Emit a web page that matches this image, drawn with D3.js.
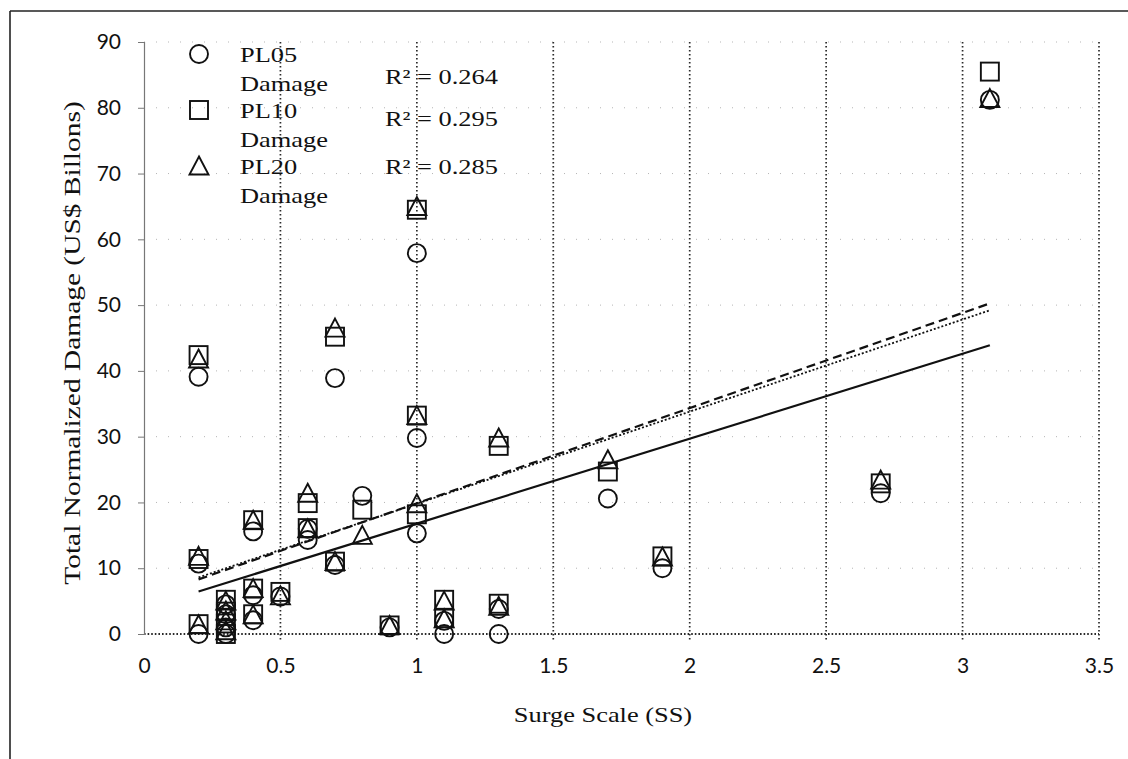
<!DOCTYPE html>
<html>
<head>
<meta charset="utf-8">
<script src="https://cdn.jsdelivr.net/npm/d3@7"></script>
<style>
  html, body { margin: 0; padding: 0; background: #fff; }
  svg { display: block; }
</style>
</head>
<body>
<svg id="chart" width="1128" height="759"></svg>
<script>
// Surge scale of each event
const surgeScale = [0.2, 0.2, 0.2, 0.3, 0.3, 0.3, 0.3, 0.4, 0.4, 0.4, 0.5, 0.6, 0.6, 0.7,
                    0.7, 0.8, 0.9, 1.0, 1.0, 1.0, 1.1, 1.1, 1.3, 1.3, 1.7, 1.9, 2.7, 3.1];
// Total normalized damage (US$ billions) per level
const pl05Damage = [39.1, 10.7, 0, 4.5, 3.0, 1.0, 0, 15.6, 5.9, 2.1, 5.7, 14.3, 16.0, 38.9,
                    10.5, 21.0, 1.0, 57.9, 29.8, 15.3, 0, 2.0, 3.8, 0, 20.6, 10.0, 21.4, 81.2];
const pl10Damage = [42.4, 11.4, 1.5, 5.2, 3.4, 1.6, 0, 17.3, 6.9, 3.0, 6.4, 16.1, 19.9, 45.2,
                    11.0, 18.9, 1.3, 64.5, 33.2, 18.2, 5.2, 2.4, 4.6, 28.6, 24.7, 11.8, 22.9, 85.5];
const pl20Damage = [41.8, 11.8, 1.4, 5.0, 3.5, 2.0, 0.5, 17.3, 6.9, 2.9, 5.8, 16.0, 21.4, 46.5,
                    11.0, 15.0, 1.3, 65.0, 33.2, 19.8, 5.0, 2.3, 4.2, 29.8, 26.5, 11.7, 23.4, 81.4];

const seriesNames = ["PL05", "PL10", "PL20"];
const rSquaredLabels = ["R\u00B2 = 0.264", "R\u00B2 = 0.295", "R\u00B2 = 0.285"];
const xTicks = [0, 0.5, 1, 1.5, 2, 2.5, 3, 3.5];
const yTicks = [0, 10, 20, 30, 40, 50, 60, 70, 80, 90];

const series = [
  { name: seriesNames[0], values: pl05Damage, shape: "circle", trend: "solid" },
  { name: seriesNames[1], values: pl10Damage, shape: "square", trend: "dashed" },
  { name: seriesNames[2], values: pl20Damage, shape: "triangle", trend: "dotted" }
];

const svg = d3.select("#chart");
const serif = "'Liberation Serif', 'Times New Roman', serif";
const sans = "Lato, 'Open Sans', sans-serif";
const ink = "#111";

const x = d3.scaleLinear().domain([0, 3.5]).range([144, 1099]);
const y = d3.scaleLinear().domain([0, 90]).range([634, 42]);

// serif label with widened glyphs
function serifText(parent, tx, ty, str, size, anchor, rotate, wide) {
  return parent.append("text")
    .attr("transform", `translate(${tx},${ty})${rotate ? " rotate(-90)" : ""} scale(${wide || 1.2},1)`)
    .attr("text-anchor", anchor || "start")
    .attr("font-family", serif).attr("font-size", size).attr("fill", ink)
    .text(str);
}

// outer frame (top and left edges)
svg.append("line").attr("x1", 10).attr("x2", 1128).attr("y1", 11).attr("y2", 11)
  .attr("stroke", "#222").attr("stroke-width", 1.6);
svg.append("line").attr("x1", 10).attr("x2", 10).attr("y1", 11).attr("y2", 759)
  .attr("stroke", "#222").attr("stroke-width", 1.6);

// horizontal gridlines: faint sparse dots
svg.append("g").selectAll("line").data(yTicks.filter(d => d > 0)).join("line")
  .attr("x1", x(0)).attr("x2", x(3.5))
  .attr("y1", d => y(d)).attr("y2", d => y(d))
  .attr("stroke", "#b5b5b5").attr("stroke-width", 1).attr("stroke-dasharray", "1,11");

// vertical gridlines: dense dots, extending slightly below the axis as ticks
svg.append("g").selectAll("line").data(xTicks.filter(d => d > 0)).join("line")
  .attr("x1", d => x(d)).attr("x2", d => x(d))
  .attr("y1", y(90)).attr("y2", y(0) + 6)
  .attr("stroke", "#2a2a2a").attr("stroke-width", 1.7).attr("stroke-dasharray", "1.6,2.4");

// x axis line (dotted)
svg.append("line").attr("x1", x(0)).attr("x2", x(3.5)).attr("y1", y(0)).attr("y2", y(0))
  .attr("stroke", "#2a2a2a").attr("stroke-width", 1.9).attr("stroke-dasharray", "1.6,2");

// y axis
const yAxis = d3.axisLeft(y).tickValues(yTicks).tickSize(6).tickFormat(d3.format("d"));
const yg = svg.append("g").attr("transform", `translate(${x(0)},0)`).call(yAxis);
yg.select(".domain").attr("stroke", "#777").attr("stroke-width", 1.2);
yg.selectAll(".tick line").attr("stroke", "#777");
yg.selectAll(".tick text").attr("font-family", sans).attr("font-size", 21)
  .attr("fill", ink).attr("x", -23);

// x axis tick labels
const xAxis = d3.axisBottom(x).tickValues(xTicks).tickSize(0).tickFormat(d3.format("~g"));
const xg = svg.append("g").attr("transform", `translate(0,${y(0)})`).call(xAxis);
xg.select(".domain").remove();
xg.selectAll(".tick text").attr("font-family", sans).attr("font-size", 21)
  .attr("fill", ink).attr("y", 24);

// axis titles
serifText(svg, 603, 722, "Surge Scale (SS)", 22, "middle");
serifText(svg, 80, 343, "Total Normalized Damage (US$ Billons)", 23, "middle", true, 1.28);

// marker shapes
const markerSize = 19;
function drawMarker(sel, shape) {
  const h = markerSize / 2;
  if (shape === "circle") {
    sel.append("circle").attr("r", h - 0.5);
  } else if (shape === "square") {
    sel.append("rect").attr("x", -h + 0.5).attr("y", -h + 0.5)
      .attr("width", markerSize - 1).attr("height", markerSize - 1);
  } else {
    sel.append("path").attr("d", `M0,${-h} L${h},${h - 1} L${-h},${h - 1} Z`);
  }
}

// least-squares trendline from a series
function fit(xs, ys) {
  const mx = d3.mean(xs), my = d3.mean(ys);
  const sxy = d3.sum(xs, (v, i) => (v - mx) * (ys[i] - my));
  const sxx = d3.sum(xs, v => (v - mx) * (v - mx));
  const slope = sxy / sxx;
  return { slope, intercept: my - slope * mx };
}

const dashFor = { solid: null, dashed: "9,5", dotted: "2,2" };
const xMin = d3.min(surgeScale), xMax = d3.max(surgeScale);

// points
series.forEach(s => {
  const g = svg.append("g").attr("fill", "none").attr("stroke", ink).attr("stroke-width", 1.9);
  g.selectAll("g").data(s.values).join("g")
    .attr("transform", (d, i) => `translate(${x(surgeScale[i])},${y(d)})`)
    .each(function () { drawMarker(d3.select(this), s.shape); });
});

// trendlines
series.forEach(s => {
  const f = fit(surgeScale, s.values);
  svg.append("line")
    .attr("x1", x(xMin)).attr("y1", y(f.intercept + f.slope * xMin))
    .attr("x2", x(xMax)).attr("y2", y(f.intercept + f.slope * xMax))
    .attr("stroke", ink).attr("stroke-width", s.trend === "dotted" ? 1.8 : 2.2)
    .attr("stroke-dasharray", dashFor[s.trend]);
});

// legend
const legend = svg.append("g").attr("transform", "translate(199,54)");
series.forEach((s, i) => {
  const row = legend.append("g").attr("transform", `translate(0,${i * 56})`);
  const m = row.append("g").attr("fill", "none").attr("stroke", ink).attr("stroke-width", 1.9);
  drawMarker(m, s.shape);
  serifText(row, 41, 8, s.name, 22);
  serifText(row, 41, 37, "Damage", 22);
});

// R-squared labels
const rY = [84, 126, 174];
rSquaredLabels.forEach((d, i) => serifText(svg, 385, rY[i], d, 22));
</script>
</body>
</html>
